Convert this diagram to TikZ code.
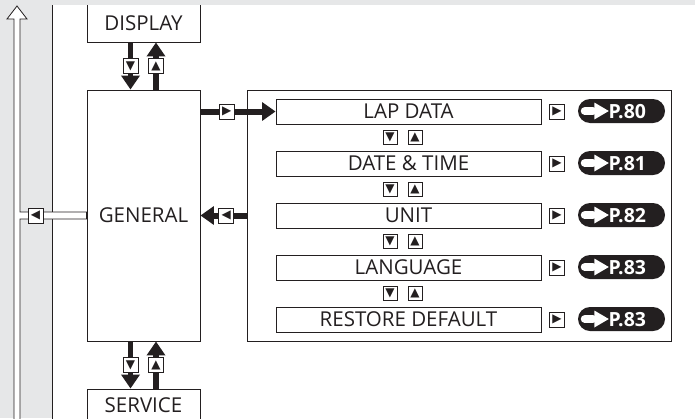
\documentclass[tikz,border=0pt]{standalone}
\usepackage{fontspec}
\setmainfont{Open Sans}
\newfontfamily\symfont{DejaVu Sans}
\usetikzlibrary{arrows.meta,calc}
\definecolor{bggray}{HTML}{E6E7E8}
\definecolor{ink}{HTML}{231F20}
\begin{document}
\begin{tikzpicture}[x=1pt,y=-1pt,
  box/.style={draw=ink, line width=0.9pt, fill=white, inner sep=0pt, font=\fontsize{20.5}{24}\selectfont, text=ink},
  mk/.style={draw=ink, line width=0.8pt, fill=white, minimum size=15pt, inner sep=0pt, font=\symfont\fontsize{12}{12}\selectfont, text=ink},
  bigv/.style={draw=ink, line width=5.5pt, -{Triangle[width=18pt,length=14pt]}},
  bigh/.style={draw=ink, line width=6pt, -{Triangle[width=18pt,length=13.5pt]}},
  pill/.style={fill=ink, rounded corners=12pt, minimum width=87pt, minimum height=24pt, inner sep=0pt},
  ptext/.style={text=white, font=\bfseries\fontsize{19.5}{22}\selectfont, inner sep=0pt, anchor=west}
]
\useasboundingbox (0,0) rectangle (695,418);
\clip (0,0) rectangle (695,418);
% background
\fill[white] (0,0) rectangle (695,418);
\fill[bggray] (0,0) rectangle (52,418);
\draw[ink, line width=0.9pt] (52,5) -- (52,420);

% main boxes
\node[box, minimum width=113pt, minimum height=38pt] (display) at (143.5,23) {DISPLAY};
\node[box, minimum width=113pt, minimum height=251pt] (general) at (143.5,215.5) {GENERAL};
\node[box, minimum width=113pt, minimum height=33pt] (service) at (143.5,405.5) {SERVICE};

% submenu container
\node[draw=ink, line width=1pt, minimum width=424pt, minimum height=251pt, inner sep=0pt] (cont) at (459,215.5) {};

% items
\node[box, minimum width=265pt, minimum height=25pt] (i1) at (408.5,111.5) {LAP DATA};
\node[box, minimum width=265pt, minimum height=25pt] (i2) at (408.5,163.5) {DATE \& TIME};
\node[box, minimum width=265pt, minimum height=25pt] (i3) at (408.5,215.5) {UNIT};
\node[box, minimum width=265pt, minimum height=25pt] (i4) at (408.5,267.5) {LANGUAGE};
\node[box, minimum width=265pt, minimum height=25pt] (i5) at (408.5,319.5) {RESTORE DEFAULT};

% up/down markers between items
\foreach \a/\b in {1/2,2/3,3/4,4/5}{
  \node[mk, minimum size=14pt] (d\a) at ($($(i\a.south)!0.5!(i\b.north)$)+(-18.5,0)$) {▼};
  \node[mk, minimum size=14pt] (u\a) at ($($(i\a.south)!0.5!(i\b.north)$)+(6.5,0)$) {▲};
}

% right markers and page pills
\foreach \i/\p in {1/80,2/81,3/82,4/83,5/83}{
  \node[mk] (r\i) at ($(i\i.center)+(148.5,0)$) {▶};
  \node[pill] (p\i) at ($(i\i.center)+(213,-0.5)$) {};
  \fill[white, rounded corners=3.8pt] ($(p\i.west)+(3,-3.9)$) rectangle ($(p\i.west)+(19,3.9)$);
  \fill[white] ($(p\i.west)+(16.5,-8.5)$) -- ($(p\i.west)+(31,0)$) -- ($(p\i.west)+(16.5,8.5)$) -- cycle;
  \node[ptext] (t\i) at ($(p\i.west)+(30.5,0.3)$) {P.\p};
}

% vertical thick arrows
\draw[bigv] ([xshift=-13pt]display.south) -- node[mk] (m1) {▼} ([xshift=-13pt]general.north);
\draw[bigv] ([xshift=12.5pt]general.north) -- node[mk] (m2) {▲} ([xshift=12.5pt]display.south);
\draw[bigv] ([xshift=-13pt]general.south) -- node[mk] (m3) {▼} ([xshift=-13pt]service.north);
\draw[bigv] ([xshift=12.5pt]service.north) -- node[mk] (m4) {▲} ([xshift=12.5pt]general.south);

% horizontal thick arrows
\draw[bigh] (general.east |- i1) -- node[mk, pos=0.35] (m5) {▶} (i1.west);
\draw[bigh] (cont.west |- general) -- node[mk, pos=0.44] (m6) {◀} (general.east);

% hollow arrow on the left
\filldraw[fill=white, draw=ink, line width=0.8pt]
  (14,430) -- (14,19) -- (7,19) -- (17,6) -- (27,19) -- (20,19) -- (20,212)
  -- ([yshift=3.5pt]general.west) -- ([yshift=-3.5pt]general.west)
  -- (20,219) -- (20,430) -- cycle;
\node[mk] (m7) at (35.5,215.5) {◀};

% top band
\fill[bggray] (0,0) rectangle (695,5);
\end{tikzpicture}
\end{document}
